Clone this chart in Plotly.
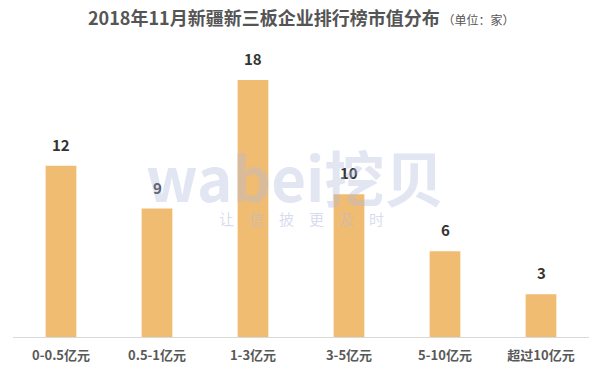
import plotly.graph_objects as go

categories = ["0-0.5亿元", "0.5-1亿元", "1-3亿元", "3-5亿元", "5-10亿元", "超过10亿元"]
values = [12, 9, 18, 10, 6, 3]

FONT = "Noto Sans CJK SC, Noto Sans, sans-serif"

fig = go.Figure()
fig.add_trace(go.Bar(
    x=categories, y=values,
    marker=dict(color="#F0BC72", line=dict(width=0)),
    width=0.32,
    cliponaxis=False,
))

annotations = [
    dict(x=c, y=v, xref="x", yref="y", xanchor="center", yanchor="bottom", yshift=9,
         text=f"<b>{v}</b>", showarrow=False,
         font=dict(family=FONT, size=15, color="#333333"))
    for c, v in zip(categories, values)
]
annotations += [
    dict(x=0.5, y=1.245, xref="paper", yref="paper", xanchor="center", yanchor="middle",
         text="<b>2018年11月新疆新三板企业排行榜市值分布</b><span style='font-size:12px'> （单位：家）</span>",
         showarrow=False, font=dict(family=FONT, size=18, color="#555555")),
    dict(x=0.49, y=0.63, xref="paper", yref="paper", xanchor="center", yanchor="middle",
         text="<b>wabei挖贝</b>", showarrow=False,
         font=dict(family=FONT, size=60, color="rgba(180,186,222,0.38)")),
    dict(x=0.50, y=0.46, xref="paper", yref="paper", xanchor="center", yanchor="middle",
         text="让\u3000信\u3000披\u3000更\u3000及\u3000时", showarrow=False,
         font=dict(family=FONT, size=15, color="rgba(180,186,222,0.5)")),
]

fig.update_layout(
    width=605, height=378,
    margin=dict(l=13, r=16, t=80, b=41),
    paper_bgcolor="white", plot_bgcolor="white",
    showlegend=False,
    font=dict(family=FONT),
    xaxis=dict(
        showgrid=False, showline=True, linecolor="#D9D9D9", linewidth=1,
        ticks="", ticklabelstandoff=6,
        tickfont=dict(family=FONT, size=13, color="#595959", weight="bold"),
        fixedrange=True,
    ),
    yaxis=dict(range=[0, 18], showgrid=False, showticklabels=False, zeroline=False, visible=False),
    annotations=annotations,
)

fig.write_html("out.html")
